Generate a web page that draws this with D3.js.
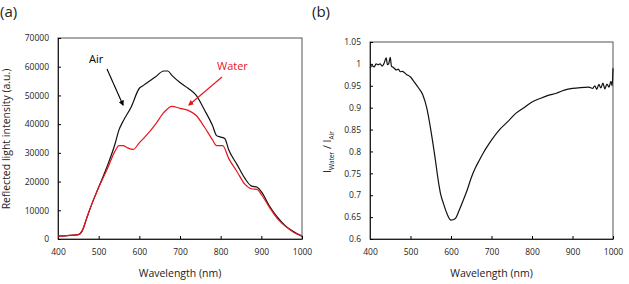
<!DOCTYPE html>
<html>
<head>
<meta charset="utf-8">
<script src="https://cdn.jsdelivr.net/npm/d3@7"></script>
<style>
body { margin: 0; background: #fff; }
svg text { font-family: "Open Sans", "Noto Sans", sans-serif; }
</style>
</head>
<body>
<div id="chart"></div>
<script>
// panel (a): reflected light intensity
var wlA = [400, 450, 460, 470, 480, 500, 520, 540, 550, 560, 580, 600, 610, 620, 640, 660, 670, 680, 700, 720, 740, 760, 780, 790, 800, 810, 820, 840, 860, 875, 890, 900, 920, 940, 960, 980, 1000];
var airA = [1000, 1500, 3000, 7000, 11000, 18000, 25000, 33000, 38000, 41000, 46000, 52500, 53500, 54500, 56500, 58500, 58500, 57000, 54500, 52500, 50000, 45000, 39500, 36000, 35500, 35000, 31000, 26000, 21000, 18500, 18000, 16500, 11500, 7500, 4500, 2500, 1000];
var wlW = [400, 450, 460, 470, 480, 500, 520, 540, 550, 560, 570, 585, 600, 620, 640, 660, 680, 700, 720, 740, 760, 780, 790, 805, 820, 840, 860, 875, 890, 900, 920, 940, 960, 980, 1000];
var waterA = [1000, 1500, 3000, 7000, 11000, 18000, 24000, 30500, 32500, 32500, 31800, 31200, 33500, 36500, 40000, 44000, 46200, 45500, 44800, 43000, 39000, 34500, 32500, 32500, 28000, 23500, 19000, 17500, 17300, 15500, 11000, 7000, 4300, 2300, 1000];
var yTicksA = [0, 10000, 20000, 30000, 40000, 50000, 60000, 70000];

// panel (b): ratio I_Water / I_Air
var wlB = [400, 405, 410, 415, 420, 425, 430, 435, 440, 443, 446, 450, 453, 456, 460, 465, 470, 475, 480, 490, 500, 510, 520, 530, 540, 550, 560, 570, 575, 580, 590, 600, 610, 620, 630, 640, 650, 660, 670, 680, 690, 700, 720, 740, 760, 780, 800, 820, 840, 860, 880, 900, 920, 940, 950, 955, 960, 965, 970, 975, 980, 985, 990, 995, 998, 1000];
var ratioB = [0.99, 0.996, 0.993, 1.0, 0.998, 1.0, 0.995, 1.002, 1.014, 0.998, 1.0, 1.015, 0.995, 0.993, 0.99, 0.986, 0.988, 0.982, 0.983, 0.976, 0.97, 0.958, 0.945, 0.93, 0.9, 0.85, 0.79, 0.725, 0.7, 0.685, 0.658, 0.643, 0.646, 0.665, 0.688, 0.712, 0.74, 0.762, 0.78, 0.797, 0.812, 0.826, 0.85, 0.868, 0.887, 0.9, 0.913, 0.921, 0.928, 0.933, 0.94, 0.944, 0.946, 0.947, 0.944, 0.95, 0.942, 0.953, 0.945, 0.956, 0.943, 0.954, 0.947, 0.96, 0.95, 0.99];
var yTicksB = [0.6, 0.65, 0.7, 0.75, 0.8, 0.85, 0.9, 0.95, 1, 1.05];
var xTicks = [400, 500, 600, 700, 800, 900, 1000];

var width = 629, height = 284;
var svg = d3.select("#chart").append("svg")
  .attr("width", width)
  .attr("height", height);

svg.append("defs").selectAll("marker")
  .data([["arrowBlack", "#000"], ["arrowRed", "#e8141e"]])
  .enter().append("marker")
  .attr("id", d => d[0])
  .attr("viewBox", "0 0 10 10")
  .attr("refX", 8).attr("refY", 5)
  .attr("markerWidth", 5).attr("markerHeight", 5)
  .attr("orient", "auto")
  .append("path")
  .attr("d", "M0,0 L10,5 L0,10 z")
  .attr("fill", d => d[1]);

function panel (opt) {
  var x = d3.scaleLinear().domain([400, 1000]).range([opt.left, opt.right]);
  var y = d3.scaleLinear().domain(opt.yDomain).range([opt.bottom, opt.top]);

  var g = svg.append("g");

  // frame
  g.append("rect")
    .attr("x", opt.left).attr("y", opt.top)
    .attr("width", opt.right - opt.left).attr("height", opt.bottom - opt.top)
    .attr("fill", "none").attr("stroke", "#555").attr("stroke-width", 1);

  // x axis, inward ticks
  var xa = g.append("g")
    .attr("transform", "translate(0," + opt.bottom + ")")
    .call(d3.axisBottom(x).tickValues(xTicks).tickSizeInner(-3).tickSizeOuter(0).tickPadding(10).tickFormat(d3.format("d")));
  xa.select(".domain").attr("stroke", "#222");
  xa.selectAll("text").style("font-size", "8.5px").attr("fill", "#222");

  // y axis, inward ticks
  var ya = g.append("g")
    .attr("transform", "translate(" + opt.left + ",0)")
    .call(d3.axisLeft(y).tickValues(opt.yTicks).tickSizeInner(-3).tickSizeOuter(0).tickPadding(9).tickFormat(opt.fmt));
  ya.select(".domain").attr("stroke", "#222");
  ya.selectAll("text").style("font-size", "8.5px").attr("fill", "#222");

  g.append("text")
    .attr("x", (opt.left + opt.right) / 2).attr("y", 277)
    .attr("text-anchor", "middle")
    .style("font-size", "10.5px").attr("fill", "#222")
    .text("Wavelength (nm)");

  g.append("text")
    .attr("x", opt.left - 58).attr("y", 17)
    .style("font-size", "15px").attr("fill", "#222")
    .text(opt.label);

  var line = d3.line()
    .x(d => x(d[0]))
    .y(d => y(d[1]))
    .curve(d3.curveMonotoneX);

  opt.series.forEach(s => {
    g.append("path")
      .attr("d", line(d3.zip(s.x, s.y)))
      .attr("fill", "none")
      .attr("stroke", s.color)
      .attr("stroke-width", 1.2);
  });

  return {g: g, x: x, y: y};
}

var pa = panel({
  left: 58, right: 302, top: 38, bottom: 239,
  yDomain: [0, 70000], yTicks: yTicksA, fmt: d3.format("d"), label: "(a)",
  series: [
    {x: wlA, y: airA, color: "#111"},
    {x: wlW, y: waterA, color: "#e8141e"}
  ]
});

pa.g.append("text")
  .attr("transform", "translate(10," + 139 + ") rotate(-90)")
  .attr("text-anchor", "middle")
  .style("font-size", "10.5px").attr("fill", "#222")
  .text("Reflected light intensity (a.u.)");

pa.g.append("text").attr("x", 89).attr("y", 63)
  .style("font-size", "11px").attr("fill", "#000").text("Air");
pa.g.append("line")
  .attr("x1", 107).attr("y1", 69).attr("x2", 123).attr("y2", 105)
  .attr("stroke", "#000").attr("stroke-width", 1.1).attr("marker-end", "url(#arrowBlack)");

pa.g.append("text").attr("x", 217).attr("y", 70)
  .style("font-size", "11px").attr("fill", "#e8141e").text("Water");
pa.g.append("line")
  .attr("x1", 222).attr("y1", 77).attr("x2", 189).attr("y2", 105)
  .attr("stroke", "#e8141e").attr("stroke-width", 1.1).attr("marker-end", "url(#arrowRed)");

var pb = panel({
  left: 370, right: 613, top: 42, bottom: 239,
  yDomain: [0.6, 1.05], yTicks: yTicksB, fmt: d => String(+d.toFixed(2)), label: "(b)",
  series: [
    {x: wlB, y: ratioB, color: "#111"}
  ]
});

var yl = pb.g.append("text")
  .attr("transform", "translate(331,152) rotate(-90)")
  .attr("text-anchor", "middle")
  .style("font-size", "10.5px").attr("fill", "#222");
yl.append("tspan").text("I");
yl.append("tspan").attr("dy", 3).style("font-size", "6.5px").text("Water");
yl.append("tspan").attr("dy", -3).text("  /  I");
yl.append("tspan").attr("dy", 3).style("font-size", "6.5px").text("Air");
</script>
</body>
</html>
